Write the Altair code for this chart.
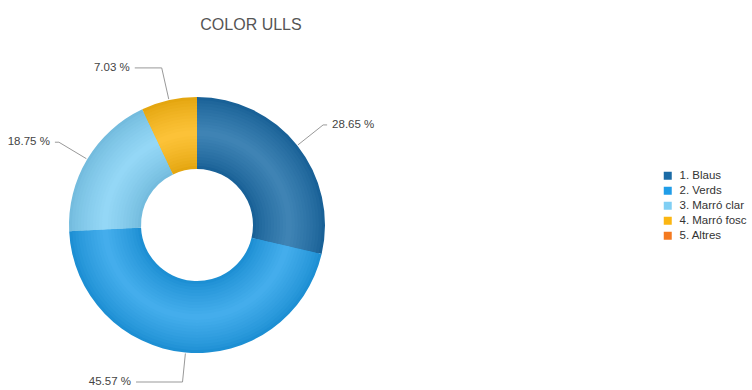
import json
import altair as alt
import pandas as pd

TITLE = "COLOR ULLS"
categories = ["1. Blaus", "2. Verds", "3. Marró clar", "4. Marró fosc", "5. Altres"]
values = [28.65, 45.57, 18.75, 7.03, 0.0]
base_colors = ["#1b6ba6", "#209de8", "#80cff4", "#fbb612", "#f47a20"]

df = pd.DataFrame({"cat": categories, "value": values, "idx": list(range(len(categories)))})

W, H = 752, 390
CX, CY = 197, 225
R_OUT, R_IN = 128, 56
R_ELBOW = 161
FONT = "Liberation Sans"


def hex2rgb(h):
    h = h.lstrip("#")
    return [int(h[i:i + 2], 16) for i in (0, 2, 4)]


def rgb2hex(c):
    return "#" + "".join(f"{max(0, min(255, round(v))):02x}" for v in c)


def mix(h, target, t):
    a, b = hex2rgb(h), hex2rgb(target)
    return rgb2hex([a[i] + (b[i] - a[i]) * t for i in range(3)])


# shared arc encoding
def arc_enc(color):
    return dict(
        theta=alt.Theta("value:Q", stack=True),
        order=alt.Order("idx:Q"),
        detail="cat:N",
        color=color,
        x=alt.value(CX),
        y=alt.value(CY),
    )


layers = []
N = 12
mid_r = (R_OUT + R_IN) / 2
half = (R_OUT - R_IN) / 2
for k in range(N):
    t = k / (N - 1)
    shades = []
    for c in base_colors:
        dark = mix(c, "#000000", 0.09)
        light = mix(c, "#ffffff", 0.16)
        shades.append(mix(dark, light, t ** 0.8))
    h = half * (1 - k / N)
    layer = (
        alt.Chart()
        .transform_calculate(shade=f"{json.dumps(shades)}[datum.idx]")
        .mark_arc(radius=mid_r + h, radius2=mid_r - h, strokeWidth=0)
        .encode(**arc_enc(alt.Color("shade:N", scale=None, legend=None)))
    )
    layers.append(layer)

legend_layer = alt.Chart().mark_arc(radius=0, radius2=0).encode(
    **arc_enc(
        alt.Color(
            "cat:N",
            scale=alt.Scale(domain=categories, range=base_colors),
            sort=categories,
            legend=alt.Legend(
                title=None,
                orient="none",
                legendX=662,
                legendY=170,
                symbolType="square",
                symbolSize=64,
                symbolStrokeWidth=0,
                labelFont=FONT,
                labelFontSize=11.5,
                labelColor="#333333",
                labelOffset=6,
                rowPadding=2,
                padding=0,
                labelLimit=200,
            ),
        )
    )
)
layers.append(legend_layer)

geo = (
    alt.Chart()
    .transform_joinaggregate(total="sum(value)")
    .transform_window(cum="sum(value)", sort=[alt.SortField("idx")], frame=[None, 0])
    .transform_filter("datum.value > 0")
    .transform_calculate(mid="2*PI*(datum.cum - datum.value/2)/datum.total")
    .transform_calculate(
        side="sin(datum.mid) >= 0 ? 1 : -1",
        sx=f"{CX} + {R_OUT + 1}*sin(datum.mid)",
        sy=f"{CY} - {R_OUT + 1}*cos(datum.mid)",
        ex=f"{CX} + {R_ELBOW}*sin(datum.mid)",
        ey=f"min({CY} - {R_ELBOW}*cos(datum.mid), {H - 8})",
        hlen="4 + 48*pow(abs(cos(datum.mid)), 30)",
        label="format(datum.value, '.2f') + ' %'",
    )
    .transform_calculate(
        hx="datum.ex + datum.side*datum.hlen",
        tx="datum.ex + datum.side*(datum.hlen + 5)",
    )
)

seg1 = geo.mark_rule(color="#999999", strokeWidth=1).encode(
    x=alt.X("sx:Q", scale=None),
    y=alt.Y("sy:Q", scale=None),
    x2="ex:Q",
    y2="ey:Q",
)
seg2 = geo.mark_rule(color="#999999", strokeWidth=1).encode(
    x=alt.X("ex:Q", scale=None),
    y=alt.Y("ey:Q", scale=None),
    x2="hx:Q",
    y2="ey:Q",
)
txt_r = (
    geo.transform_filter("datum.side > 0")
    .mark_text(align="left", baseline="middle", font=FONT, fontSize=11.5, color="#444444")
    .encode(x=alt.X("tx:Q", scale=None), y=alt.Y("ey:Q", scale=None), text="label:N")
)
txt_l = (
    geo.transform_filter("datum.side < 0")
    .mark_text(align="right", baseline="middle", font=FONT, fontSize=11.5, color="#444444")
    .encode(x=alt.X("tx:Q", scale=None), y=alt.Y("ey:Q", scale=None), text="label:N")
)

title = (
    alt.Chart(alt.Data(values=[{"t": TITLE}]))
    .mark_text(align="center", baseline="alphabetic", font=FONT, fontSize=16, color="#555555")
    .encode(x=alt.value(251), y=alt.value(30), text="t:N")
)

chart = (
    alt.layer(*layers, seg1, seg2, txt_r, txt_l, title, data=df)
    .resolve_scale(color="independent")
    .properties(width=W, height=H, autosize=alt.AutoSizeParams(type="none"), padding=0, background="white")
    .configure_view(stroke=None)
)

chart.save("out.html", embed_options={"renderer": "svg", "actions": False})
